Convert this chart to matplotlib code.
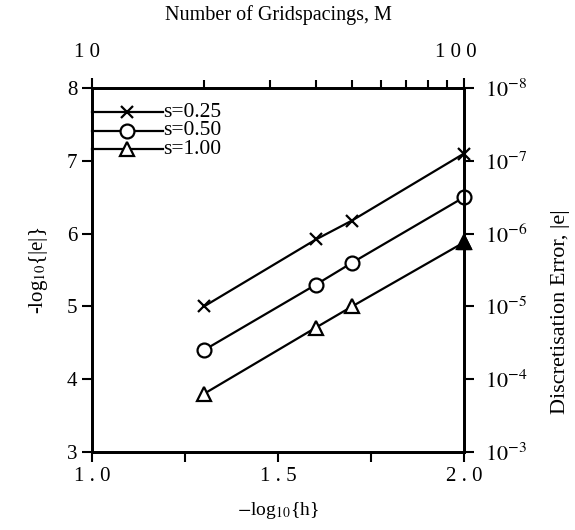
import numpy as np
import matplotlib
matplotlib.use('Agg')
import matplotlib.pyplot as plt

plt.rcParams['font.family'] = ['Liberation Serif', 'DejaVu Serif']
plt.rcParams['mathtext.fontset'] = 'stix'

# -log10(h) for M = 20, 40, 50, 100
x = [1.301, 1.602, 1.699, 2.0]
s025 = [5.0, 5.92, 6.18, 7.1]
s050 = [4.4, 5.3, 5.6, 6.5]
s100 = [3.8, 4.71, 5.0, 5.88]
labels = ['s=0.25', 's=0.50', 's=1.00']
markers = ['x', 'o', '^']
legend_y = [7.67, 7.41, 7.16]

fig = plt.figure(figsize=(5.75, 5.3), dpi=100)
ax = fig.add_axes([0.16, 0.147, 0.647, 0.687])


def mstyle(m):
    return dict(marker=m, markersize=8 if m == 'x' else 10,
                markerfacecolor='black' if m == 'x' else 'white',
                markeredgewidth=1.6)


for ys, m in zip([s025, s050, s100], markers):
    ax.plot(x, ys, color='black', lw=1.6, clip_on=False, zorder=3, **mstyle(m))
# last triangle sits on the spine and looks filled in the original
ax.plot(x[-1:], s100[-1:], color='black', marker='^', markersize=10,
        markerfacecolor='black', clip_on=False, zorder=4, lw=0)

# hand-drawn legend attached to the left spine
for lab, m, ly in zip(labels, markers, legend_y):
    ax.plot([1.0, 1.19], [ly, ly], color='black', lw=1.6, clip_on=False)
    ax.plot([1.094], [ly], color='black', **mstyle(m))
    ax.text(1.19, ly, lab, fontsize=15.5, va='center', ha='left')

ax.set_xlim(1.0, 2.0)
ax.set_ylim(3, 8)
ax.set_xticks([1.0, 1.25, 1.5, 1.75, 2.0])
ax.set_xticklabels(['1 . 0', '', '1 . 5', '', '2 . 0'])
ax.set_yticks([3, 4, 5, 6, 7, 8])
ax.tick_params(axis='both', direction='out', length=7, width=1.5, labelsize=15)
ax.set_xlabel(r'$-$log$_{10}${h}', fontsize=14, labelpad=10)
ax.set_ylabel(r'-log$_{10}${|e|}', fontsize=15, labelpad=12)

top = ax.twiny()
top.set_xscale('log')
top.set_xlim(10, 100)
top.set_xticks([10, 100])
top.set_xticklabels(['1 0  ', '1 0 0   '])
top.tick_params(axis='x', which='major', direction='out', length=7, width=1.5,
                labelsize=15, pad=12)
top.tick_params(axis='x', which='minor', direction='out', length=6, width=1.5)
top.xaxis.set_minor_formatter(matplotlib.ticker.NullFormatter())
top.set_xlabel('Number of Gridspacings, M', fontsize=14.5, labelpad=16)

right = ax.twinx()
right.set_ylim(3, 8)
right.set_yticks([3, 4, 5, 6, 7, 8])
right.set_yticklabels([r'$10^{-%d}$' % v for v in [3, 4, 5, 6, 7, 8]])
right.tick_params(axis='y', direction='out', length=7, width=1.5, labelsize=16, pad=8)
right.set_ylabel('Discretisation Error, |e|', fontsize=16)
right.yaxis.set_label_coords(1.235, 0.385)

for a in (ax, top, right):
    for sp in a.spines.values():
        sp.set_linewidth(1.8)

fig.savefig('out.png', dpi=100)
